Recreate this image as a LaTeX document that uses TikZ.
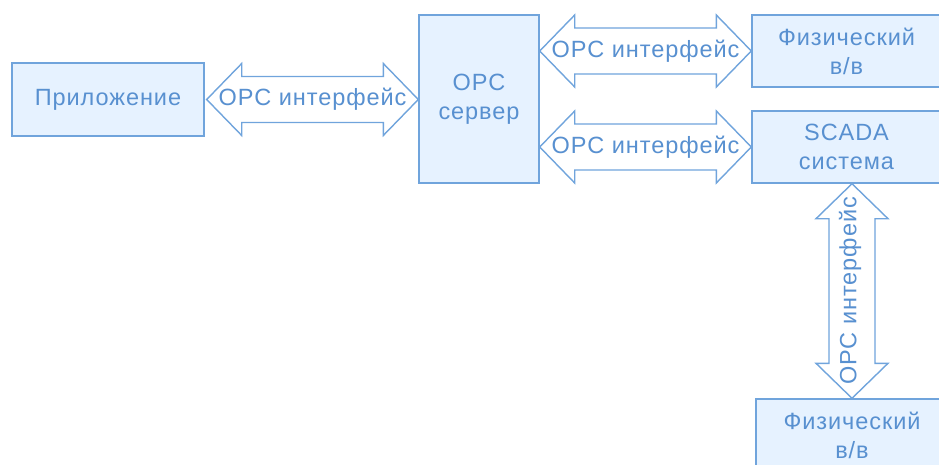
\documentclass[tikz,border=0pt]{standalone}
\usepackage{fontspec}
\usetikzlibrary{calc}
\setmainfont[LetterSpace=4.0]{Liberation Sans}
\definecolor{boxline}{RGB}{112,164,220}
\definecolor{boxfill}{RGB}{230,242,255}
\definecolor{labeltext}{RGB}{88,144,208}
\tikzset{
  block/.style={draw=boxline, fill=boxfill, line width=1.4pt, text=labeltext,
    align=center, inner sep=0pt, font=\fontsize{23.5}{29}\selectfont},
  arrowline/.style={draw=boxline, fill=white, line width=1.4pt, line join=miter},
  arrowtext/.style={text=labeltext, inner sep=0pt, font=\fontsize{23.5}{29}\selectfont}
}
% horizontal double arrow between two named points: tip-to-tip
\newcommand{\hdblarrow}[2]{%
  \path[arrowline] (#1) -- ([shift={(35,-36)}]#1) -- ([shift={(35,-23)}]#1)
    -- ([shift={(-35,-23)}]#2) -- ([shift={(-35,-36)}]#2) -- (#2)
    -- ([shift={(-35,36)}]#2) -- ([shift={(-35,23)}]#2)
    -- ([shift={(35,23)}]#1) -- ([shift={(35,36)}]#1) -- cycle;}
% vertical double arrow, first point on top (y grows downwards)
\newcommand{\vdblarrow}[2]{%
  \path[arrowline] (#1) -- ([shift={(36,35)}]#1) -- ([shift={(23,35)}]#1)
    -- ([shift={(23,-35)}]#2) -- ([shift={(36,-35)}]#2) -- (#2)
    -- ([shift={(-36,-35)}]#2) -- ([shift={(-23,-35)}]#2)
    -- ([shift={(-23,35)}]#1) -- ([shift={(-36,35)}]#1) -- cycle;}
\begin{document}
\begin{tikzpicture}[x=1pt, y=-1pt]
  \useasboundingbox (0,0) rectangle (939,465);
  \clip (0,0) rectangle (939,465);

  % blocks
  \node[block, minimum width=192pt, minimum height=73pt] (app) at (108,99.5) {Приложение};
  \node[block, minimum width=120pt, minimum height=168pt] (srv) at (479,99) {OPC\\сервер};
  \node[block, minimum width=189pt, minimum height=72pt] (io1) at (846.5,51) {Физический\\в/в};
  \node[block, minimum width=189pt, minimum height=72pt] (scada) at (846.5,147) {SCADA\\система};
  \node[block, minimum width=192pt, minimum height=72pt] (io2) at (852,435) {Физический\\в/в};

  % interface anchors
  \coordinate (a1l) at ([xshift=2pt]app.east);
  \coordinate (a1r) at (srv.west |- a1l);
  \coordinate (a2l) at (srv.east |- io1.west);
  \coordinate (a2r) at (io1.west);
  \coordinate (a3l) at (srv.east |- scada.west);
  \coordinate (a3r) at (scada.west);
  \coordinate (a4t) at (io2.north |- scada.south);
  \coordinate (a4b) at (io2.north);

  % OPC interface arrows
  \hdblarrow{a1l}{a1r}
  \hdblarrow{a2l}{a2r}
  \hdblarrow{a3l}{a3r}
  \vdblarrow{a4t}{a4b}

  \node[arrowtext] (t1) at ($(a1l)!0.5!(a1r)$) {OPC интерфейс};
  \node[arrowtext] (t2) at ($(a2l)!0.5!(a2r)$) {OPC интерфейс};
  \node[arrowtext] (t3) at ($(a3l)!0.5!(a3r)$) {OPC интерфейс};
  \node[arrowtext, rotate=90] (t4) at ([xshift=-2pt]$(a4t)!0.5!(a4b)$) {OPC интерфейс};
\end{tikzpicture}
\end{document}
